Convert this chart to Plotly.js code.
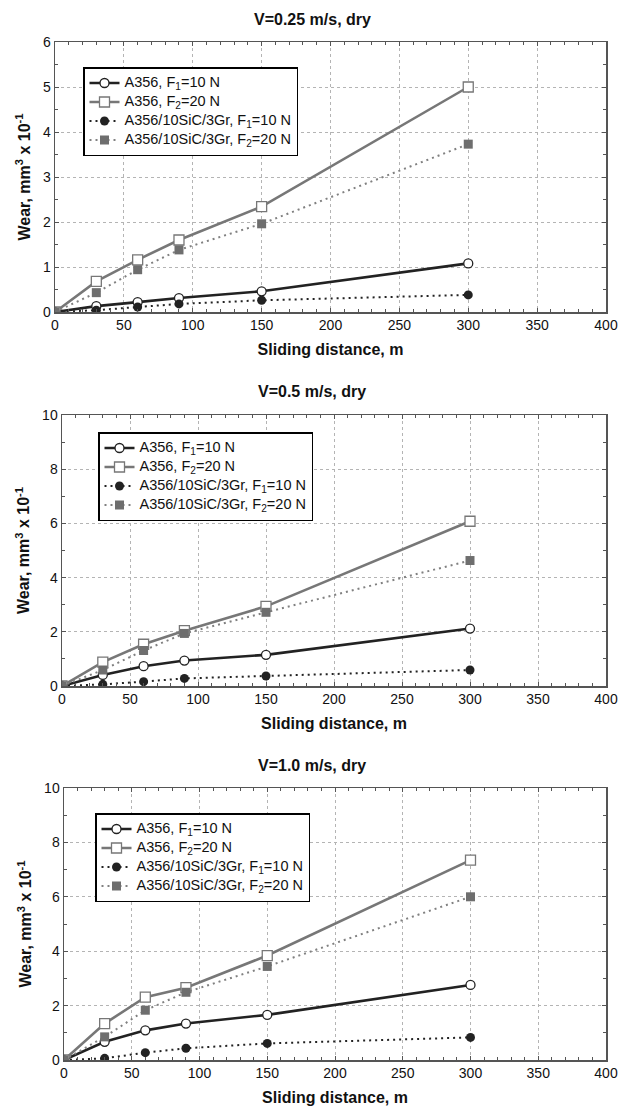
<!DOCTYPE html>
<html><head><meta charset="utf-8">
<script src="https://cdn.plot.ly/plotly-3.0.1.min.js"></script>
<style>body{margin:0;background:#fff}#chart{width:619px;height:1111px}</style>
</head><body><div id="chart"></div>
<script>
// Sliding distance, m
const distance = [0, 30, 60, 90, 150, 300];

const seriesNames = [
  'A356, F<sub>1</sub>=10 N',
  'A356, F<sub>2</sub>=20 N',
  'A356/10SiC/3Gr, F<sub>1</sub>=10 N',
  'A356/10SiC/3Gr, F<sub>2</sub>=20 N'
];

const panelTitles = ['V=0.25 m/s, dry', 'V=0.5 m/s, dry', 'V=1.0 m/s, dry'];

// Wear, mm^3 x 10^-1 — V = 0.25 m/s
const v025_A356_F1 = [0, 0.13, 0.22, 0.31, 0.46, 1.08];
const v025_A356_F2 = [0, 0.68, 1.16, 1.60, 2.34, 5.00];
const v025_Comp_F1 = [0, 0.04, 0.11, 0.18, 0.26, 0.38];
const v025_Comp_F2 = [0, 0.43, 0.94, 1.38, 1.96, 3.73];

// V = 0.5 m/s
const v05_A356_F1 = [0, 0.41, 0.73, 0.94, 1.15, 2.12];
const v05_A356_F2 = [0, 0.88, 1.54, 2.04, 2.94, 6.08];
const v05_Comp_F1 = [0, 0.06, 0.16, 0.28, 0.37, 0.59];
const v05_Comp_F2 = [0, 0.59, 1.31, 1.94, 2.72, 4.63];

// V = 1.0 m/s
const v10_A356_F1 = [0, 0.67, 1.09, 1.34, 1.66, 2.76];
const v10_A356_F2 = [0, 1.34, 2.31, 2.66, 3.84, 7.35];
const v10_Comp_F1 = [0, 0.06, 0.27, 0.43, 0.61, 0.83];
const v10_Comp_F2 = [0, 0.85, 1.83, 2.49, 3.44, 6.00];

const yMax = [6, 10, 10];
const yDtick = [1, 2, 2];
const yMinor = [0.5, 1, 1];

const panels = [
  [v025_A356_F1, v025_A356_F2, v025_Comp_F1, v025_Comp_F2],
  [v05_A356_F1, v05_A356_F2, v05_Comp_F1, v05_Comp_F2],
  [v10_A356_F1, v10_A356_F2, v10_Comp_F1, v10_Comp_F2]
];

const W = 619, H = 1111;
// plot areas in pixels: [left, right, top, bottom]
const boxes = [[55, 606, 42, 312], [62, 606, 415, 686], [64, 606, 788, 1060]];
const legendPos = [[83, 67], [98, 432], [95, 813]];

const styles = [
  {line: {color: '#222', width: 2.6, dash: 'solid'}, marker: {symbol: 'circle', size: 9, color: '#fff', line: {color: '#222', width: 1.3}}},
  {line: {color: '#777', width: 2.6, dash: 'solid'}, marker: {symbol: 'square', size: 10, color: '#fff', line: {color: '#777', width: 1.3}}},
  {line: {color: '#222', width: 2, dash: '2px,4px'}, marker: {symbol: 'circle', size: 9, color: '#222', line: {width: 0}}},
  {line: {color: '#808080', width: 2, dash: '2px,4px'}, marker: {symbol: 'square', size: 9, color: '#6e6e6e', line: {width: 0}}}
];

const font = 'Liberation Sans, Arial, sans-serif';
const traces = [];
const layout = {
  width: W, height: H,
  margin: {l: 0, r: 0, t: 0, b: 0},
  paper_bgcolor: '#fff', plot_bgcolor: '#fff',
  font: {family: font, size: 14, color: '#111'},
  showlegend: true,
  annotations: []
};

panels.forEach((series, p) => {
  const sfx = p === 0 ? '' : String(p + 1);
  const [l, r, t, b] = boxes[p];
  series.forEach((vals, i) => {
    traces.push({
      type: 'scatter', mode: 'lines+markers',
      x: distance, y: vals,
      name: '<span style="font-size:14.5px">' + seriesNames[i] + '</span>',
      xaxis: 'x' + sfx, yaxis: 'y' + sfx,
      legend: 'legend' + sfx,
      line: styles[i].line, marker: styles[i].marker
    });
  });
  const common = {
    showgrid: true, gridcolor: '#b4b4b4', griddash: 'dot', gridwidth: 1,
    showline: true, linecolor: '#555', linewidth: 1.5, mirror: 'allticks',
    ticks: 'inside', ticklen: 4, tickcolor: '#555', zeroline: false,
    tickfont: {family: font, size: 14, color: '#111'}, fixedrange: true
  };
  layout['xaxis' + sfx] = Object.assign({}, common, {
    domain: [l / W, r / W], anchor: 'y' + sfx,
    range: [0, 400], tick0: 0, dtick: 50,
    minor: {ticks: 'inside', ticklen: 3, dtick: 10, tickcolor: '#555', showgrid: false},
    title: {text: '<b>Sliding distance, m</b>', font: {family: font, size: 16, color: '#111'}, standoff: 11}
  });
  layout['yaxis' + sfx] = Object.assign({}, common, {
    domain: [1 - b / H, 1 - t / H], anchor: 'x' + sfx,
    range: [0, yMax[p]], tick0: 0, dtick: yDtick[p],
    minor: {ticks: 'inside', ticklen: 3, dtick: yMinor[p], tickcolor: '#555', showgrid: false},
    title: {text: '<b>Wear, mm<sup>3</sup> x 10<sup>-1</sup></b>', font: {family: font, size: 16, color: '#111'}, standoff: 8}
  });
  layout['legend' + sfx] = {
    x: legendPos[p][0] / W, y: 1 - legendPos[p][1] / H,
    xanchor: 'left', yanchor: 'top', xref: 'paper', yref: 'paper',
    bgcolor: '#fff', bordercolor: '#000', borderwidth: 1.5,
    font: {family: font, size: 11, color: '#111'},
    tracegroupgap: 0, itemwidth: 30
  };
  layout.annotations.push({
    xref: 'paper', yref: 'paper', x: 312 / W, y: 1 - (t - 23) / H,
    xanchor: 'center', yanchor: 'middle', showarrow: false,
    text: '<b>' + panelTitles[p] + '</b>',
    font: {family: font, size: 16, color: '#111'}
  });
});

Plotly.newPlot('chart', traces, layout, {displayModeBar: false, staticPlot: true});
</script>
</body></html>
